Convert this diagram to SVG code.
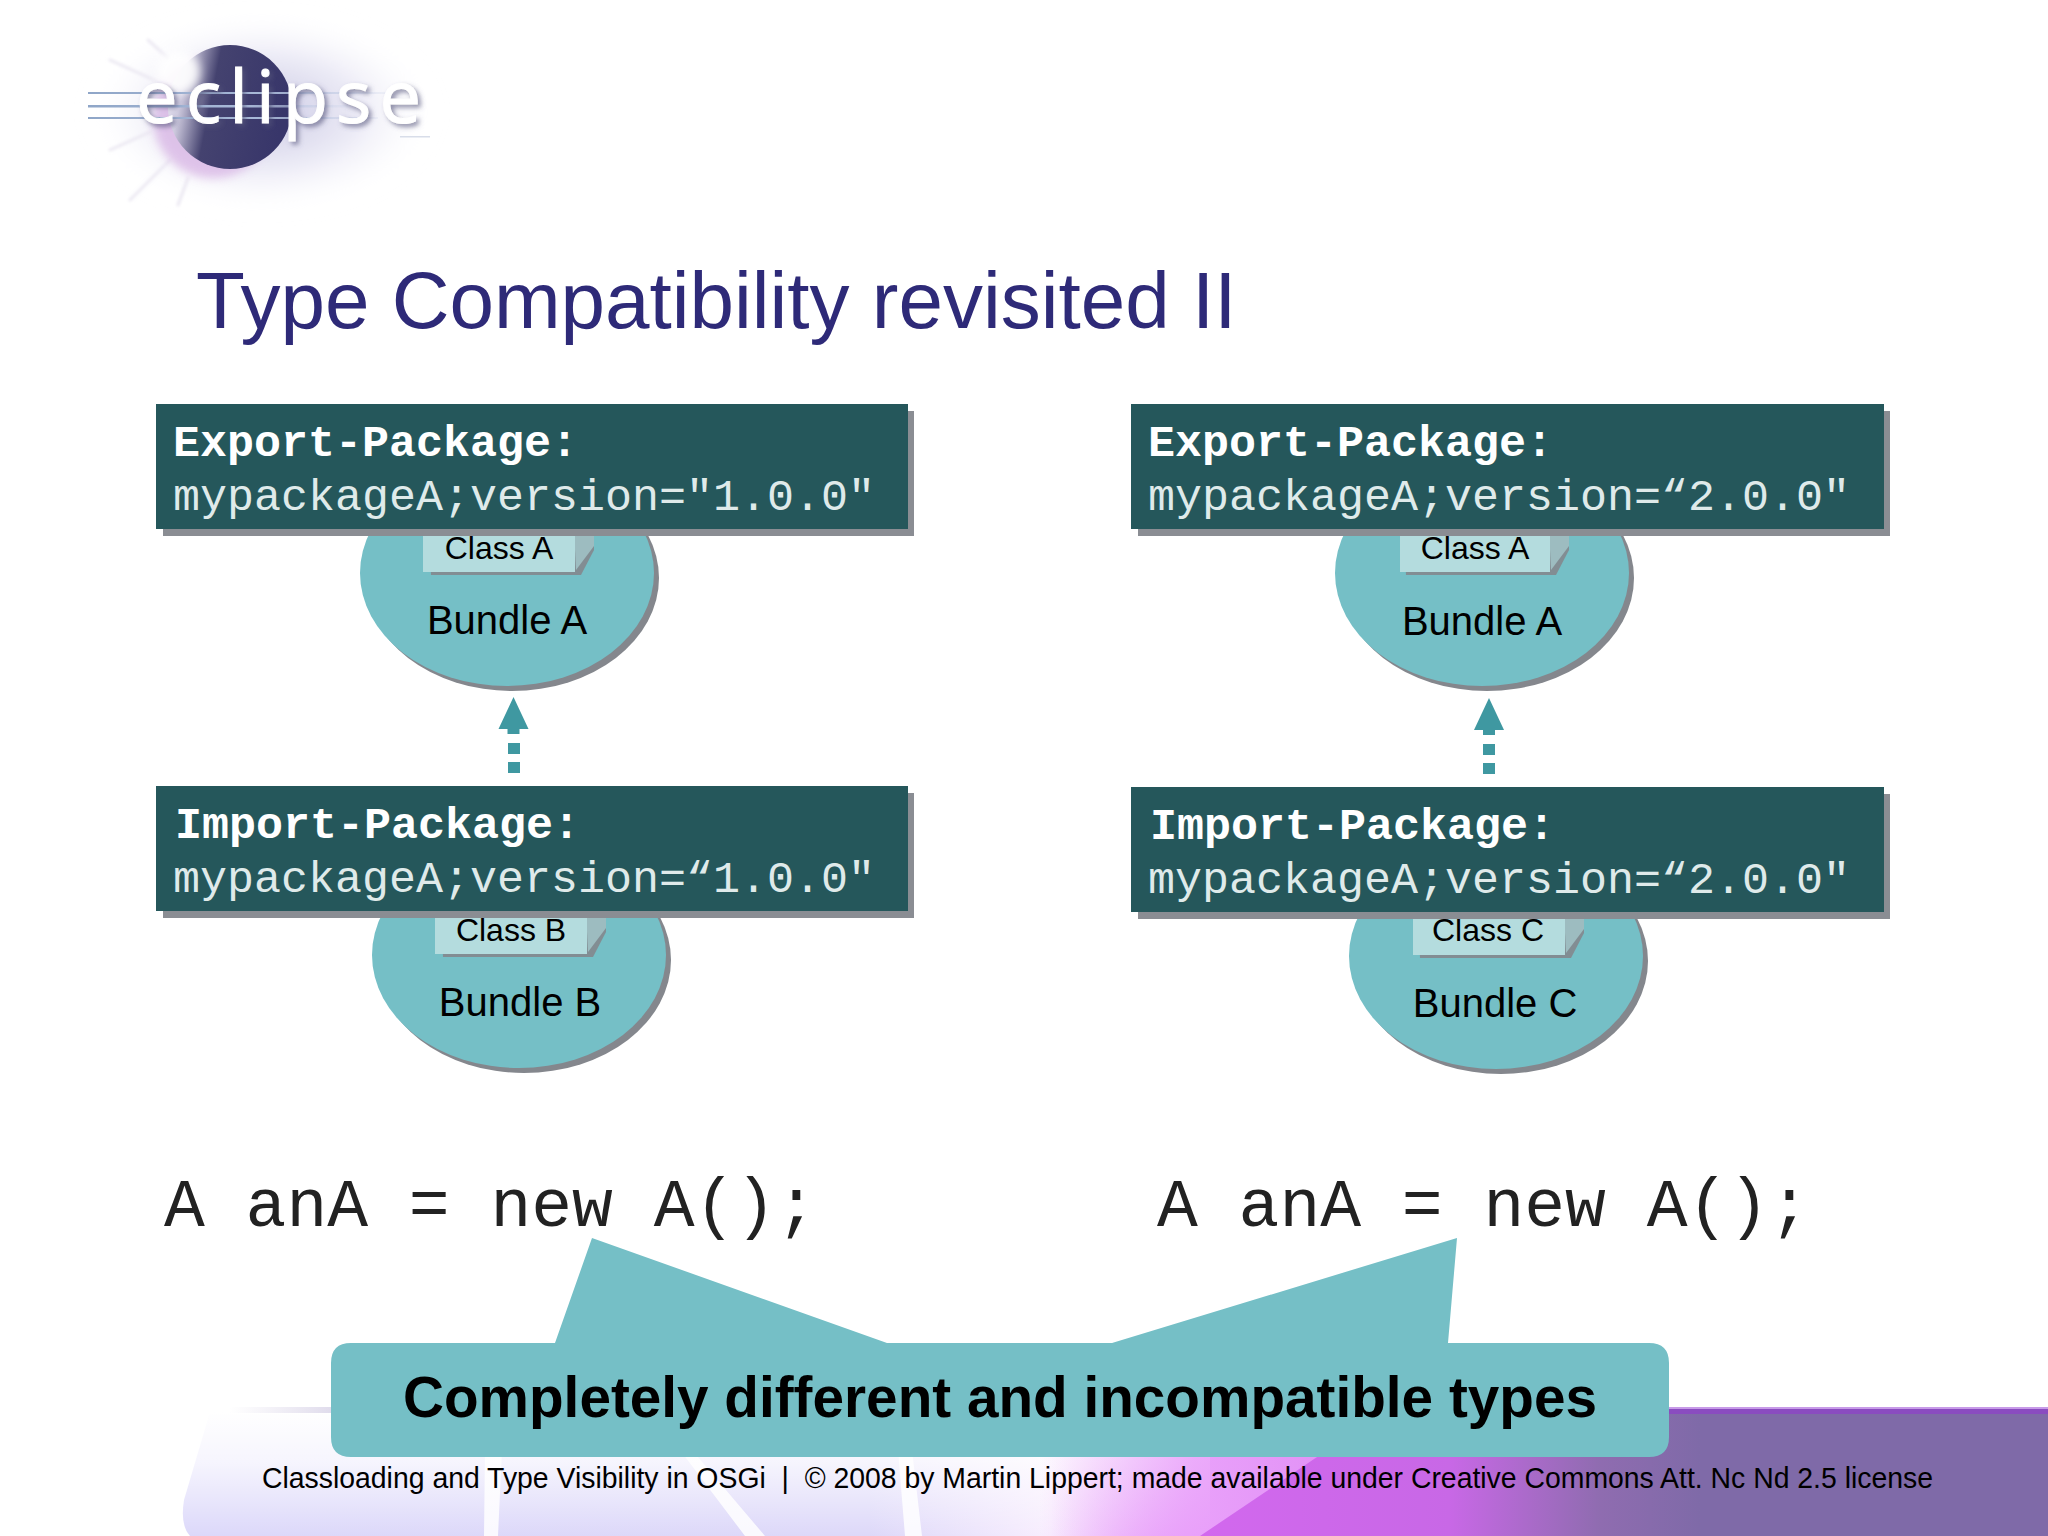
<svg xmlns="http://www.w3.org/2000/svg" width="2048" height="1536" viewBox="0 0 2048 1536">
<defs>
<style>
.sans{font-family:"Liberation Sans",Arial,sans-serif}
.pkg{fill:#25575b}
.shadow{fill:#8a8d93}
.hd{font-size:45px;font-weight:bold;fill:#fff;font-family:"Liberation Mono",monospace}
.ver{font-size:45px;fill:#dfeaea;font-family:"Liberation Mono",monospace}
.bun{fill:#75bfc6}
.bunS{fill:#84878d}
.cls{fill:#b4dcde}
.clsSide{fill:#9dbcc0}
.clsLbl{font-size:32px;fill:#000;text-anchor:middle;font-family:"Liberation Sans",sans-serif}
.bunLbl{font-size:40px;fill:#000;text-anchor:middle;font-family:"Liberation Sans",sans-serif}
.code{font-size:68px;fill:#222;font-family:"Liberation Mono",monospace}
.arr{fill:#3f98a1}
</style>
<linearGradient id="band" x1="190" y1="0" x2="1700" y2="0" gradientUnits="userSpaceOnUse">
<stop offset="0" stop-color="#dcd8fa"/><stop offset=".45" stop-color="#ddd8f9"/><stop offset=".57" stop-color="#f8eefe"/><stop offset=".66" stop-color="#e9a6fa"/><stop offset="1" stop-color="#dd88f2"/>
</linearGradient>
<linearGradient id="fadeUp" x1="0" y1="0" x2="0" y2="1">
<stop offset="0" stop-color="#fff" stop-opacity="1"/><stop offset=".4" stop-color="#fff" stop-opacity=".75"/><stop offset="1" stop-color="#fff" stop-opacity="0"/>
</linearGradient>
<linearGradient id="pink" x1="1040" y1="0" x2="1320" y2="0" gradientUnits="userSpaceOnUse">
<stop offset="0" stop-color="#e9a0fa" stop-opacity="0"/><stop offset=".55" stop-color="#e9a0fa" stop-opacity=".85"/><stop offset="1" stop-color="#e292f6"/>
</linearGradient>
<linearGradient id="lineTop" x1="0" y1="0" x2="1" y2="0">
<stop offset="0" stop-color="#e4e0ee" stop-opacity="0"/><stop offset="1" stop-color="#e0dcec"/>
</linearGradient>
<linearGradient id="purple" x1="1200" y1="0" x2="1700" y2="0" gradientUnits="userSpaceOnUse">
<stop offset="0" stop-color="#d268ee"/><stop offset=".5" stop-color="#c868e6"/><stop offset=".8" stop-color="#8f6cb0"/><stop offset="1" stop-color="#7f6aa8"/>
</linearGradient>
<linearGradient id="sphere" x1="0" y1="0" x2="1" y2=".2">
<stop offset="0" stop-color="#f4f0f8"/><stop offset=".18" stop-color="#d0cce0"/><stop offset=".42" stop-color="#44426f"/><stop offset="1" stop-color="#38366a"/>
</linearGradient>
<radialGradient id="halo"><stop offset="0" stop-color="#b9b7da" stop-opacity=".8"/><stop offset=".55" stop-color="#d6d4ec" stop-opacity=".5"/><stop offset="1" stop-color="#fff" stop-opacity="0"/></radialGradient>
<linearGradient id="lineFade" x1="0" y1="0" x2="1" y2="0"><stop offset="0" stop-color="#8fa6c8"/><stop offset=".6" stop-color="#a9b9d8"/><stop offset="1" stop-color="#c9d2e8" stop-opacity=".2"/></linearGradient>
<filter id="blur" x="-30%" y="-30%" width="160%" height="160%"><feGaussianBlur stdDeviation="10"/></filter>
<filter id="blur2" x="-30%" y="-30%" width="160%" height="160%"><feGaussianBlur stdDeviation="1.5"/></filter>
<filter id="blur3" x="-30%" y="-30%" width="160%" height="160%"><feGaussianBlur stdDeviation="5"/></filter>
<filter id="ts" x="-10%" y="-30%" width="125%" height="160%"><feDropShadow dx="3" dy="3" stdDeviation="2.5" flood-color="#55557a" flood-opacity=".65"/></filter>
</defs>
<rect width="2048" height="1536" fill="#fff"/>

<g id="background">
<path d="M210 1412 L1700 1412 L1700 1536 L190 1536 Q180 1525 184 1500 Z" fill="url(#band)"/>
<path d="M485 1450 L502 1450 L498 1536 L484 1536Z M680 1450 L692 1450 L765 1536 L745 1536Z M898 1450 L912 1450 L922 1536 L905 1536Z" fill="#fff" opacity=".85"/>
<rect x="180" y="1412" width="1030" height="124" fill="url(#fadeUp)"/>
<rect x="1040" y="1412" width="280" height="124" fill="url(#pink)"/>
<path d="M1320 1455 L1400 1408 L2048 1408 L2048 1536 L1200 1536 Z" fill="url(#purple)"/>
<rect x="1669" y="1407" width="379" height="7" fill="#8a4cc0"/>
<rect x="1669" y="1407" width="379" height="2" fill="#c79ae8"/>
<rect x="230" y="1407" width="101" height="6" fill="url(#lineTop)"/>
</g>

<g id="logo">
<ellipse cx="262" cy="112" rx="175" ry="100" fill="url(#halo)" filter="url(#blur)"/>
<g stroke="#ebe8f2" stroke-width="3" stroke-linecap="round" fill="none" filter="url(#blur2)">
<path d="M110 60 L165 85"/><path d="M110 150 L150 132"/><path d="M130 200 L170 160"/><path d="M178 205 L188 178"/><path d="M148 40 L168 58"/>
</g>
<circle cx="213" cy="118" r="60" fill="#d8b4e4" filter="url(#blur3)" opacity=".75"/>
<circle cx="230" cy="107" r="62" fill="url(#sphere)"/>
<circle cx="178" cy="72" r="22" fill="#fff" filter="url(#blur3)" opacity=".9"/>
<g fill="url(#lineFade)">
<rect x="88" y="92" width="300" height="2"/><rect x="88" y="105" width="260" height="2.500"/><rect x="88" y="117" width="290" height="2"/>
</g>
<rect x="400" y="136" width="30" height="1.500" fill="#d8dde9"/>
<text x="136" y="123" font-family="'Open Sans','DejaVu Sans',sans-serif" font-size="74" fill="#fff" stroke="#fff" stroke-width="1" textLength="285" lengthAdjust="spacing" filter="url(#ts)">eclipse</text>
</g>

<text id="title" x="196" y="328" class="sans" font-size="80" fill="#2e2a78">Type Compatibility revisited II</text>

<g id="bundle-a-left">
<ellipse cx="512" cy="578" rx="147" ry="113" class="bunS"/>
<ellipse cx="507" cy="573" rx="147" ry="113" class="bun"/>
<path d="M429 529 H594 V550 L581 575 H431 Z" class="bunS" opacity=".9"/>
<path d="M574 529 H594 V546 L576 570 Z" class="clsSide"/>
<rect x="423" y="529" width="152" height="43" class="cls"/>
<text x="499" y="559" class="clsLbl">Class A</text>
<text x="507" y="634" class="bunLbl">Bundle A</text>
</g>
<g id="bundle-b">
<ellipse cx="524" cy="960" rx="147" ry="113" class="bunS"/>
<ellipse cx="519" cy="955" rx="147" ry="113" class="bun"/>
<path d="M441 911 H606 V932 L593 957 H443 Z" class="bunS" opacity=".9"/>
<path d="M586 911 H606 V928 L588 952 Z" class="clsSide"/>
<rect x="435" y="911" width="152" height="43" class="cls"/>
<text x="511" y="941" class="clsLbl">Class B</text>
<text x="520" y="1016" class="bunLbl">Bundle B</text>
</g>
<g id="bundle-a-right">
<ellipse cx="1487" cy="578" rx="147" ry="113" class="bunS"/>
<ellipse cx="1482" cy="573" rx="147" ry="113" class="bun"/>
<path d="M1404 529 H1569 V550 L1556 575 H1406 Z" class="bunS" opacity=".9"/>
<path d="M1549 529 H1569 V546 L1551 570 Z" class="clsSide"/>
<rect x="1400" y="529" width="150" height="43" class="cls"/>
<text x="1475" y="559" class="clsLbl">Class A</text>
<text x="1482" y="635" class="bunLbl">Bundle A</text>
</g>
<g id="bundle-c">
<ellipse cx="1501" cy="961" rx="147" ry="113" class="bunS"/>
<ellipse cx="1496" cy="956" rx="147" ry="113" class="bun"/>
<path d="M1418 912 H1584 V933 L1571 958 H1420 Z" class="bunS" opacity=".9"/>
<path d="M1564 912 H1584 V929 L1566 953 Z" class="clsSide"/>
<rect x="1413" y="912" width="152" height="43" class="cls"/>
<text x="1488" y="941" class="clsLbl">Class C</text>
<text x="1495" y="1017" class="bunLbl">Bundle C</text>
</g>

<g id="export-left">
<rect x="163" y="411" width="751" height="125" class="shadow"/>
<rect x="156" y="404" width="752" height="125" class="pkg"/>
<text x="173" y="456" class="hd">Export-Package:</text>
<text x="173" y="510" class="ver">mypackageA;version="1.0.0"</text>
</g>
<g id="import-left">
<rect x="163" y="793" width="751" height="125" class="shadow"/>
<rect x="156" y="786" width="752" height="125" class="pkg"/>
<text x="175" y="838" class="hd">Import-Package:</text>
<text x="173" y="892" class="ver">mypackageA;version=“1.0.0"</text>
</g>
<g id="export-right">
<rect x="1138" y="411" width="752" height="125" class="shadow"/>
<rect x="1131" y="404" width="753" height="125" class="pkg"/>
<text x="1148" y="456" class="hd">Export-Package:</text>
<text x="1148" y="510" class="ver">mypackageA;version=“2.0.0"</text>
</g>
<g id="import-right">
<rect x="1138" y="794" width="752" height="125" class="shadow"/>
<rect x="1131" y="787" width="753" height="125" class="pkg"/>
<text x="1150" y="839" class="hd">Import-Package:</text>
<text x="1148" y="893" class="ver">mypackageA;version=“2.0.0"</text>
</g>

<g id="connectors">
<g class="arr">
<path d="M513.500 697 L528.500 729 L519.500 729 V734 H507.500 V729 L498.500 729 Z"/>
<rect x="508" y="743" width="12" height="11"/><rect x="508" y="762" width="12" height="11"/>
<path d="M1489 698 L1504 730 L1495 730 V735 H1483 V730 L1474 730 Z"/>
<rect x="1483" y="744" width="12" height="11"/><rect x="1483" y="763" width="12" height="11"/>
</g>
</g>

<text id="code-left" x="164" y="1226" class="code">A anA = new A();</text>
<text id="code-right" x="1157" y="1226" class="code">A anA = new A();</text>

<g id="callout">
<path d="M592 1238 L887 1343 H1112 L1457 1238 L1448 1343 H1649 Q1669 1343 1669 1363 V1437 Q1669 1457 1649 1457 H351 Q331 1457 331 1437 V1363 Q331 1343 351 1343 H555 Z" fill="#75bfc6"/>
<text x="403" y="1417" class="sans" font-size="58" font-weight="bold" fill="#000" textLength="1194" lengthAdjust="spacingAndGlyphs">Completely different and incompatible types</text>
</g>

<text id="footer" x="262" y="1488" class="sans" font-size="30" fill="#000" textLength="1671" lengthAdjust="spacingAndGlyphs">Classloading and Type Visibility in OSGi &#160;|&#160; © 2008 by Martin Lippert; made available under Creative Commons Att. Nc Nd 2.5 license</text>
</svg>
